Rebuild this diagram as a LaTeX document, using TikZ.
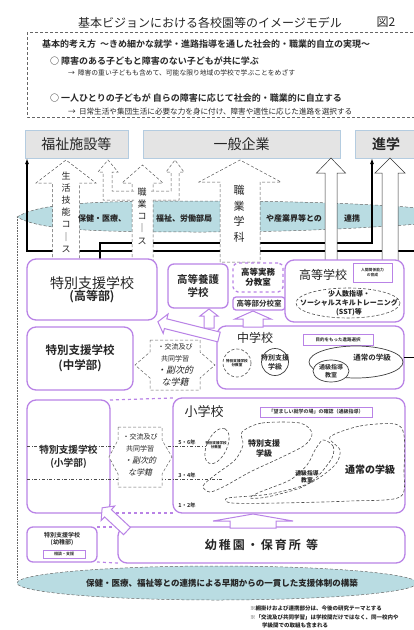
\documentclass[tikz,border=0pt]{standalone}
\usepackage{fontspec}
\setmainfont{Noto Sans CJK JP}[
  BoldFont={Noto Sans CJK JP Bold},
  AutoFakeSlant=0.22]
\usepackage{xcolor}
\usepackage{tikz}
\usetikzlibrary{arrows.meta}
\definecolor{schoolpurple}{HTML}{B983E6}
\definecolor{goalgray}{HTML}{E4E4E4}
\definecolor{goalblue}{HTML}{B4CCE0}
\definecolor{bandblue}{HTML}{B9DCE2}

% open block arrow pointing up: [style]{x}{shaft half}{head half}{tip y}{head base y}{foot y}
\newcommand{\upblock}[7][]{%
\draw[#1] ({#2-#3},#7) -- ({#2-#3},#6) -- ({#2-#4},#6) -- (#2,#5) -- ({#2+#4},#6) -- ({#2+#3},#6) -- ({#2+#3},#7) -- cycle;}
% open block arrow at an angle: [style]{tail}{angle}{length}{shaft half}{head half}
\newcommand{\slantblock}[6][]{%
\begin{scope}[shift={#2}, rotate=#3]
\draw[#1] (0,-#5) -- ({#4-8},-#5) -- ({#4-8},-#6) -- (#4,0) -- ({#4-8},#6) -- ({#4-8},#5) -- (0,#5) -- cycle;
\end{scope}}

\begin{document}
\begin{tikzpicture}[x=1pt, y=-1pt,
  every node/.style={inner sep=0pt, outer sep=0pt, text=black!85},
  goalbox/.style={draw=goalblue, fill=goalgray, line width=0.8pt, minimum height=28pt},
  schoolbox/.style={draw=schoolpurple, fill=white, line width=1.3pt, rounded corners=9pt},
  memobox/.style={draw=schoolpurple, fill=white, line width=0.5pt},
  crossbox/.style={draw=black!60, densely dashed, fill=white, line width=0.5pt},
  flowarrow/.style={draw=black!65, densely dashed, fill=white, line width=0.5pt},
  openarrow/.style={draw=black!80, fill=white, line width=0.5pt},
  stagearrow/.style={draw=schoolpurple, fill=white, line width=1pt},
  rail/.style={draw=black, line width=1.2pt},
  linkline/.style={draw=schoolpurple, dashed, line width=1.2pt},
  gradeline/.style={draw=black!70, dash dot, line width=0.5pt},
  blob/.style={draw=black!70, densely dashed, line width=0.6pt},
  bandtext/.style={font=\bfseries\itshape\fontsize{8}{9}\selectfont},
  ]
\useasboundingbox (0,0) rectangle (414,630);

% title and basic idea
\node (title) at (210,23) {\fontsize{12}{14}\selectfont 基本ビジョンにおける各校園等のイメージモデル};
\node (fig) at (386,22) {\fontsize{12}{14}\selectfont 図2};
\draw[black!60, densely dashed, line width=0.5pt] (27,32) rectangle (420,117);
\node[anchor=west] (idea) at (42,44) {\bfseries\fontsize{9}{11}\selectfont 基本的考え方\ \ ～きめ細かな就学・進路指導を通した社会的・職業的自立の実現～};
\node[anchor=west] (aim1) at (50,61) {\bfseries\fontsize{9}{11}\selectfont ○ 障害のある子どもと障害のない子どもが共に学ぶ};
\node[anchor=west] (aim1sub) at (68,73) {\fontsize{6.8}{8}\selectfont →\ \ 障害の重い子どもも含めて、可能な限り地域の学校で学ぶことをめざす};
\node[anchor=west] (aim2) at (50,98) {\bfseries\fontsize{9}{11}\selectfont ○ 一人ひとりの子どもが\ 自らの障害に応じて社会的・職業的に自立する};
\node[anchor=west] (aim2sub) at (68,112) {\fontsize{7.6}{9}\selectfont →\ \ 日常生活や集団生活に必要な力を身に付け、障害や適性に応じた進路を選択する};

% goals
\node[goalbox, minimum width=103pt] (fukushi) at (76.5,144) {\fontsize{14}{16}\selectfont 福祉施設等};
\node[goalbox, minimum width=197pt] (kigyo) at (241.5,144) {\fontsize{14}{16}\selectfont 一般企業};
\node[goalbox, minimum width=62pt, anchor=west] (shingaku) at (355,144) {\bfseries\fontsize{14}{16}\selectfont 進学\hspace{6pt}};

% cooperation band
\draw[densely dashed, black!60, fill=bandblue, line width=0.5pt] (17,217) .. controls (40,203) and (90,201) .. (200,201) .. controls (320,201) and (380,205) .. (420,208) -- (420,224) .. controls (360,228) and (300,232) .. (200,232) .. controls (90,232) and (40,230) .. (17,217) -- cycle;
\draw[black!60, densely dotted, line width=0.6pt] (17,217) -- (17,580);

% black rails
\coordinate (lowrail) at (27,251);
\coordinate (lowend) at (420,251);
\coordinate (highrail) at (100,243);
\coordinate (highturn) at (372,243);
\draw[rail, -{Latex[length=6pt,width=4pt]}] (lowend) -- (lowrail) -- (lowrail |- fukushi.south);
\draw[rail, -{Latex[length=6pt,width=4pt]}] (highrail |- 0,260) -- (highrail) -- (highturn) -- (highturn |- shingaku.south);

% courses up to the goals
\upblock[flowarrow]{66}{13.5}{30}{160}{183}{262}
\upblock[flowarrow]{142.5}{10.5}{20.5}{165}{183}{262}
\draw[flowarrow] (134,191) -- (112,191) -- (112,172) -- (118,172) -- (108,160) -- (98,172) -- (103,172) -- (103,200) -- (134,200);
\draw[flowarrow] (151,191) -- (171,191) -- (171,172) -- (166,172) -- (175,160) -- (184,172) -- (179,172) -- (179,200) -- (151,200);
\upblock[flowarrow]{240}{20}{41}{160}{182}{262}
\upblock[openarrow]{331}{6}{14.5}{158}{173}{262}
\upblock[openarrow]{390}{8}{15}{158}{173}{262}

\node[align=center, font=\fontsize{9}{12.2}\selectfont] (seikatsu) at (66,212) {生\\活\\技\\能\\コ\\｜\\ス};
\node[align=center, font=\fontsize{9}{12.2}\selectfont] (shokugyo) at (142,216) {職\\業\\コ\\｜\\ス};
\node[align=center, font=\fontsize{11}{15.5}\selectfont] (gakka) at (239,214) {職\\業\\学\\科};

\node[bandtext] (renkei1) at (102,218) {保健・医療、};
\node[bandtext] (renkei2) at (184,218) {福祉、労働部局};
\node[bandtext] (renkei3) at (294,218) {や産業界等との};
\node[bandtext] (renkei4) at (352,218) {連携};

% high school level
\node[schoolbox, minimum width=130pt, minimum height=61pt, align=center] (koutoubu) at (92,289.5) {{\fontsize{14}{18}\selectfont 特別支援学校}\\{\bfseries\fontsize{12}{15}\selectfont (高等部)}};
\node[schoolbox, rounded corners=6pt, minimum width=60pt, minimum height=44pt, align=center, font=\bfseries\fontsize{10.5}{13}\selectfont] (kouyougo) at (198,286) {高等養護\\学校};
\node[schoolbox, dashed, rounded corners=5pt, minimum width=50pt, minimum height=29pt, align=center, font=\bfseries\itshape\fontsize{8.5}{10.5}\selectfont] (bunkyo) at (258,277.5) {高等実務\\分教室};
\node[schoolbox, rounded corners=3pt, minimum width=52pt, minimum height=13pt, font=\bfseries\fontsize{7.5}{9}\selectfont] (bunkoushitsu) at (259,303.5) {高等部分校室};
\node[schoolbox, minimum width=119pt, minimum height=62pt] (koukou) at (344.5,291) {};
\node (koukoutitle) at (323,275) {\fontsize{12}{14}\selectfont 高等学校};
\node[memobox, minimum width=39pt, minimum height=19pt, align=center, font=\bfseries\fontsize{3.8}{5}\selectfont] (ningen) at (372.5,272.5) {人間関係能力\\の育成};
\draw[blob] (348,303) ellipse [x radius=52, y radius=15];
\node[align=center, font=\bfseries\itshape\fontsize{7}{9}\selectfont] (sst) at (349,303) {少人数指導・\\ソーシャルスキルトレーニング\\(SST)等};

% junior high level
\node[schoolbox, minimum width=106pt, minimum height=63pt, align=center, font=\bfseries\fontsize{11.5}{15}\selectfont] (chuugakubu) at (80,358.5) {特別支援学校\\(中学部)};
\node[schoolbox, minimum width=187pt, minimum height=63pt] (chuugaku) at (310.5,357.5) {};
\node (chuugakutitle) at (255,338) {\fontsize{12}{14}\selectfont 中学校};
\node[memobox, minimum width=70pt, minimum height=11pt, font=\bfseries\fontsize{4.5}{5}\selectfont] (mokuteki) at (338,339.5) {目的をもった進路選択};
\draw[blob] (237,363) circle [radius=14];
\node[align=center, font=\bfseries\itshape\fontsize{3.6}{4.5}\selectfont] (c-bunkyo) at (237,363) {特別支援学校\\分教室};
\draw[black!75, line width=0.7pt] (275,362) circle [radius=13.5];
\node[align=center, font=\bfseries\fontsize{7}{9}\selectfont] (c-gakkyu) at (275,362) {特別支援\\学級};
\draw[black!75, line width=0.7pt] (356,362) ellipse [x radius=47, y radius=16];
\node[font=\bfseries\fontsize{7.5}{9}\selectfont] (c-tsujo) at (372,358) {通常の学級};
\draw[black!75, fill=white, line width=0.7pt] (331,371) ellipse [x radius=18, y radius=11];
\node[align=center, font=\bfseries\fontsize{6}{7.5}\selectfont] (c-tsukyu) at (331,371) {通級指導\\教室};
\draw[rail] (chuugaku.east) -- ++(12,0);

% elementary level
\node[schoolbox, minimum width=83pt, minimum height=113pt, align=center, font=\bfseries\fontsize{9.7}{13}\selectfont] (shougakubu) at (68.5,456.5) {特別支援学校\\(小学部)};
\node[schoolbox, minimum width=232pt, minimum height=115pt] (shougaku) at (289,455.5) {};
\node (shougakutitle) at (204,412) {\fontsize{13}{15}\selectfont 小学校};
\node[memobox, minimum width=112pt, minimum height=10pt, font=\bfseries\fontsize{5}{6}\selectfont] (nozomashii) at (316,412) {「望ましい就学の場」の確認（通級指導）};
\draw[gradeline] (27,446) -- (205,446);
\draw[gradeline] (27,479) -- (222,479);
\node[font=\bfseries\fontsize{5.5}{6.5}\selectfont] (g56) at (187,442) {5・6年};
\node[font=\bfseries\fontsize{5.5}{6.5}\selectfont] (g34) at (187,475) {3・4年};
\node[font=\bfseries\fontsize{5.5}{6.5}\selectfont] (g12) at (187,505) {1・2年};
\draw[blob] (217,446) ellipse [x radius=19, y radius=10, rotate=65];
\draw[blob] plot[smooth cycle] coordinates {(242,432) (262,423) (300,423) (312,433) (305,445) (280,458) (250,472) (225,486) (210,492) (203,486) (215,475) (235,460) (243,445)};
\draw[blob] plot[smooth cycle] coordinates {(323,440) (333,446) (332,458) (317,477) (300,488) (267,497) (250,498) (260,492) (290,480) (307,465) (315,450)};
\draw[blob] plot[smooth cycle] coordinates {(330,437) (360,426) (395,424) (404,435) (404,470) (400,497) (350,501) (280,503) (232,503) (228,498) (270,494) (310,483) (335,465) (340,450)};
\node[align=center, font=\bfseries\itshape\fontsize{3.5}{4.5}\selectfont] (s-bunkyo) at (216,445) {特別支援学校\\分教室};
\node[align=center, font=\bfseries\itshape\fontsize{8}{10}\selectfont] (s-gakkyu) at (264,448) {特別支援\\学級};
\node[align=center, font=\bfseries\itshape\fontsize{5.8}{7.5}\selectfont] (s-tsukyu) at (307,477) {通級指導\\教室};
\node[font=\bfseries\itshape\fontsize{10}{12}\selectfont] (s-tsujo) at (370,470) {通常の学級};

% exchange between the two sides
\draw[crossbox] (150,340) -- (200,340) -- (200,352) -- (215,365) -- (200,378) -- (200,390) -- (150,390) -- (150,378) -- (135,365) -- (150,352) -- cycle;
\node[align=center] (koryu1) at (175,365) {\fontsize{7}{10}\selectfont ・交流及び\\\fontsize{7}{10}\selectfont 共同学習\\\itshape\fontsize{9}{12.5}\selectfont ・副次的\\\itshape\fontsize{9}{12}\selectfont な学籍};
\draw[crossbox] (118,427) -- (162,427) -- (162,440) -- (172,457) -- (162,474) -- (162,487) -- (118,487) -- (118,474) -- (109,457) -- (118,440) -- cycle;
\node[align=center] (koryu2) at (140,455) {\fontsize{7}{10}\selectfont ・交流及び\\\fontsize{7}{10}\selectfont 共同学習\\\itshape\fontsize{8}{11}\selectfont ・副次的\\\itshape\fontsize{8}{11}\selectfont な学籍};

% preschool level
\node[schoolbox, rounded corners=6pt, minimum width=70pt, minimum height=35pt] (youchibu) at (62,544.5) {};
\node[align=center, font=\bfseries\fontsize{6}{7}\selectfont] (youchibutext) at (62,539) {特別支援学校\\(幼稚部)};
\node[memobox, minimum width=42pt, minimum height=8pt, font=\bfseries\fontsize{4}{5}\selectfont] (soudan) at (64,554) {相談・支援};
\node[schoolbox, minimum width=287pt, minimum height=36pt, font=\bfseries\fontsize{12}{14}\selectfont] (youchien) at (261.5,545) {幼\,稚\,園\,・\,保\,育\,所\ \ 等};

% dashed links between the sides
\draw[linkline] (shougakubu.north east) -- (shougaku.north west);
\draw[linkline] (shougakubu.south east) -- (shougaku.south west);
\draw[linkline] (youchibu.north east) -- (youchien.north west);
\draw[linkline] (youchibu.south east) -- (youchien.south west);

% steps up
\upblock[stagearrow]{253}{23}{40}{514}{521}{528}
\slantblock[stagearrow]{(127,531)}{137}{34}{5}{10}
\upblock[stagearrow]{209}{5}{9}{309}{316}{328}
\upblock[stagearrow]{253}{10}{18}{311}{319}{327}
\slantblock[stagearrow]{(219,337)}{166}{63}{5}{10}

% early support band
\draw[densely dashed, black!60, fill=bandblue, line width=0.5pt] (217,583) ellipse [x radius=200, y radius=17];
\node[font=\bfseries\itshape\fontsize{8.5}{10}\selectfont] (soki) at (222,583) {保健・医療、福祉等との連携による早期からの一貫した支援体制の構築};

% notes
\node[anchor=west, font=\bfseries\itshape\fontsize{5.5}{6.5}\selectfont] (note1) at (250,608) {※網掛けおよび連携部分は、今後の研究テーマとする};
\node[anchor=west, font=\bfseries\itshape\fontsize{5.5}{6.5}\selectfont] (note2) at (250,617) {※「交流及び共同学習」は学校間だけではなく、同一校内や};
\node[anchor=west, font=\bfseries\itshape\fontsize{5.5}{6.5}\selectfont] (note3) at (262,625) {学級間での取組も含まれる};
\end{tikzpicture}
\end{document}
